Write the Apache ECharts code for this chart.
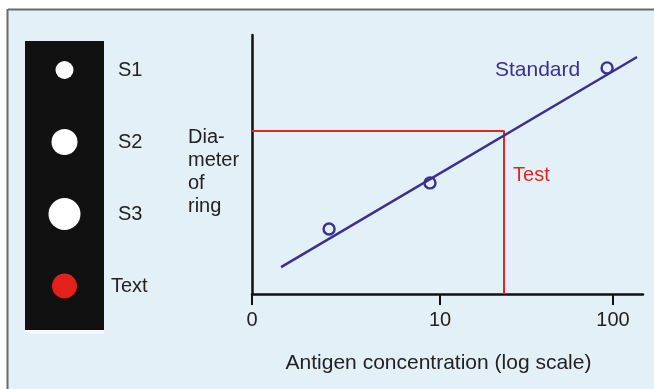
<!DOCTYPE html>
<html>
<head>
<meta charset="utf-8">
<script src="https://cdn.jsdelivr.net/npm/echarts@6/dist/echarts.min.js"></script>
<style>
html,body{margin:0;padding:0;background:#ffffff;}
#chart{width:654px;height:389px;}
</style>
</head>
<body>
<div id="chart"></div>
<script>
// ---- data ----
const xTickPositions = [0, 1.042, 2];
const xTickLabels = ['0', '10', '100'];
const standardLine = [[0.161, 10.4], [2.133, 91.5]];
const standardPoints = [[0.427, 25.1], [0.986, 42.9], [1.967, 87.3]];
const testPath = [[0, 62.9], [1.396, 62.9], [1.396, 0]];
const wells = ['S1', 'S2', 'S3', 'Text'];
const ringDiameters = [18, 26, 32, 25];
const annotations = [
  {name: 'Standard', pos: [1.346, 86.5]},
  {name: 'Test', pos: [1.446, 45.9]}
];
const yAxisTitle = 'Dia-\nmeter\nof\nring';

const FONT = 'Liberation Sans, Arial, sans-serif';
const BLUE = '#3b2f94';
const RED = '#e8231c';
const wellColors = ['#ffffff', '#ffffff', '#ffffff', '#e3201a'];

const chart = echarts.init(document.getElementById('chart'));
chart.setOption({
  backgroundColor: '#ffffff',
  animation: false,
  textStyle: {fontFamily: FONT},
  title: {
    text: yAxisTitle, left: 188, top: 126, padding: 0,
    textStyle: {fontSize: 20, fontWeight: 'normal', color: '#222', lineHeight: 23, fontFamily: FONT}
  },
  graphic: [
    {type: 'rect', z: -10, shape: {x: 8, y: 10, width: 646, height: 379}, style: {fill: '#e3f0f8'}},
    {type: 'line', z: -9, shape: {x1: 8, y1: 9.5, x2: 654, y2: 9.5}, style: {stroke: '#6a6a6a', lineWidth: 2}},
    {type: 'line', z: -9, shape: {x1: 7.5, y1: 9, x2: 7.5, y2: 389}, style: {stroke: '#6a6a6a', lineWidth: 2}},
    {type: 'rect', z: -8, shape: {x: 25, y: 41, width: 79, height: 289}, style: {fill: '#111111'}},
    {type: 'rect', z: -8, shape: {x: 25, y: 330, width: 79, height: 4}, style: {fill: '#f4f8fb'}}
  ],
  grid: [
    {left: 252, top: 35, width: 391, height: 259},
    {left: 25, top: 34, width: 79, height: 288}
  ],
  xAxis: [
    {
      gridIndex: 0, type: 'value', min: 0, max: 2.166,
      splitLine: {show: false},
      axisLine: {show: true, lineStyle: {color: '#111', width: 2.5}},
      axisTick: {show: true, customValues: xTickPositions, length: 11, lineStyle: {color: '#111', width: 2}},
      axisLabel: {
        customValues: xTickPositions, margin: 16, fontSize: 20, color: '#222', fontFamily: FONT,
        formatter: function (v) {
          const i = xTickPositions.indexOf(v);
          return i >= 0 ? xTickLabels[i] : '';
        }
      },
      name: 'Antigen concentration (log scale)', nameLocation: 'middle', nameGap: 59,
      nameTextStyle: {fontSize: 21, color: '#222', fontFamily: FONT, padding: [0, 18, 0, 0]}
    },
    {gridIndex: 1, type: 'value', min: 0, max: 1, show: false}
  ],
  yAxis: [
    {
      gridIndex: 0, type: 'value', min: 0, max: 100,
      splitLine: {show: false},
      axisLine: {show: true, lineStyle: {color: '#111', width: 2.5}},
      axisTick: {show: false},
      axisLabel: {show: false}
    },
    {
      gridIndex: 1, type: 'category', data: wells, inverse: true, position: 'right',
      axisLine: {show: false}, axisTick: {show: false}, splitLine: {show: false},
      axisLabel: {
        margin: 7, fontSize: 20, color: '#222', fontFamily: FONT,
        formatter: function (v) { return v === 'Text' ? v : '{p|' + v + '}'; },
        rich: {p: {fontSize: 20, color: '#222', fontFamily: FONT, padding: [0, 0, 0, 7]}}
      }
    }
  ],
  series: [
    {
      type: 'line', xAxisIndex: 0, yAxisIndex: 0, data: testPath,
      symbol: 'none', lineStyle: {color: RED, width: 2}, z: 2
    },
    {
      type: 'line', xAxisIndex: 0, yAxisIndex: 0, data: standardLine,
      symbol: 'none', lineStyle: {color: BLUE, width: 2.5}, z: 3
    },
    {
      type: 'scatter', xAxisIndex: 0, yAxisIndex: 0, data: standardPoints,
      symbol: 'circle', symbolSize: 11,
      itemStyle: {color: 'rgba(0,0,0,0)', borderColor: BLUE, borderWidth: 2.4, opacity: 1}, z: 4
    },
    {
      type: 'scatter', xAxisIndex: 0, yAxisIndex: 0, symbolSize: 0,
      itemStyle: {opacity: 1},
      data: annotations.map(function (a) {
        return {
          name: a.name, value: a.pos,
          label: {color: a.name === 'Test' ? RED : BLUE, fontSize: a.name === 'Test' ? 20 : 21}
        };
      }),
      label: {
        show: true, position: 'right', distance: 0, formatter: '{b}', fontFamily: FONT,
        align: 'left', verticalAlign: 'middle'
      },
      z: 5
    },
    {
      type: 'scatter', xAxisIndex: 1, yAxisIndex: 1,
      itemStyle: {opacity: 1},
      data: wells.map(function (w, i) {
        return {value: [0.5, w], symbolSize: ringDiameters[i], itemStyle: {color: wellColors[i], opacity: 1}};
      }),
      symbol: 'circle'
    }
  ]
});
</script>
</body>
</html>
